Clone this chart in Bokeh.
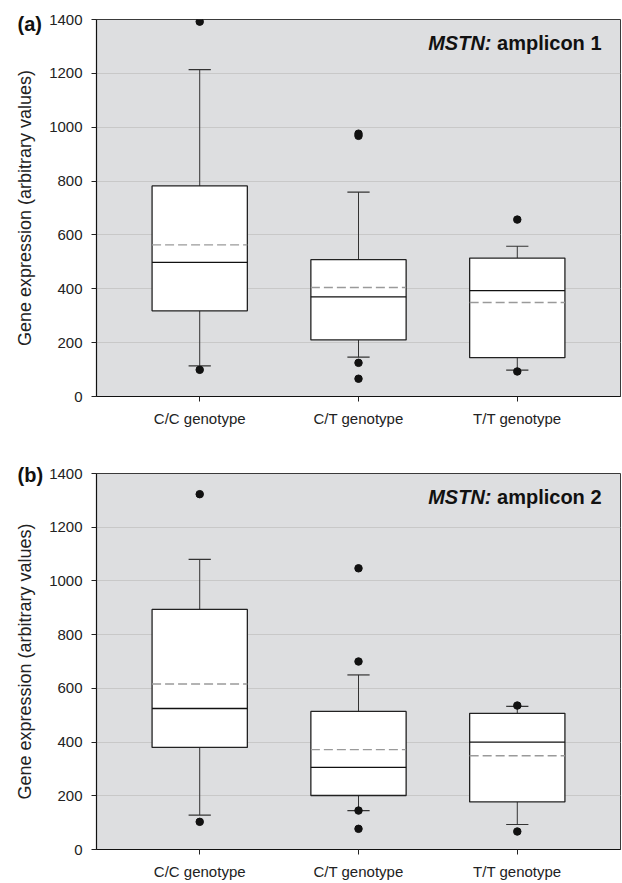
from bokeh.plotting import figure
from bokeh.models import Label, SingleIntervalTicker, FixedTicker, Range1d
from bokeh.layouts import column
from bokeh.embed import file_html
from bokeh.resources import INLINE

# ---------------- data ----------------
categories = ["C/C genotype", "C/T genotype", "T/T genotype"]
positions = [1, 2, 3]
y_ticks_interval = 200

# Panel (a) MSTN amplicon 1
a_q1 = [318, 210, 144]
a_q3 = [782, 508, 514]
a_median = [498, 370, 393]
a_mean = [563, 405, 349]
a_whisk_lo = [114, 146, 98]
a_whisk_hi = [1214, 759, 558]
a_out_pos = [1, 1, 2, 2, 2, 2, 3, 3]
a_out_val = [1392, 99, 976, 968, 125, 66, 657, 93]

# Panel (b) MSTN amplicon 2
b_q1 = [380, 201, 177]
b_q3 = [894, 514, 507]
b_median = [525, 306, 400]
b_mean = [616, 372, 349]
b_whisk_lo = [128, 145, 93]
b_whisk_hi = [1080, 650, 533]
b_out_pos = [1, 1, 2, 2, 2, 2, 3, 3]
b_out_val = [1323, 103, 1047, 700, 145, 77, 536, 67]

FONT = "Liberation Sans"
BOX_W = 0.6
CAP_W = 0.14


def make_panel(tag, amp, q1, q3, med, mean, wlo, whi, opos, oval,
               height, top_b, bottom_b, tag_standoff):
    p = figure(width=622, height=height, output_backend="svg",
               toolbar_location=None,
               x_range=Range1d(0.35, 3.65), y_range=Range1d(0, 1400),
               min_border_left=96, min_border_right=2,
               min_border_top=top_b, min_border_bottom=bottom_b)
    p.background_fill_color = "#dddee0"
    p.border_fill_color = "white"
    p.outline_line_color = "#3a3a3a"
    p.outline_line_width = 1

    # panel tag as a title placed beside the top of the y axis
    p.title.text = tag
    p.title.align = "left"
    p.title.vertical_align = "bottom"
    p.title.offset = -79
    p.title.standoff = tag_standoff
    p.title.text_font = FONT
    p.title.text_font_size = "20px"
    p.title.text_font_style = "bold"
    p.title.text_color = "#111"

    p.xgrid.grid_line_color = None
    p.ygrid.grid_line_color = "#c8c8c8"
    p.ygrid.grid_line_width = 1

    # y axis
    p.yaxis.ticker = SingleIntervalTicker(interval=y_ticks_interval, num_minor_ticks=0)
    p.yaxis.axis_label = "Gene expression (arbitrary values)"
    p.yaxis.axis_label_text_font = FONT
    p.yaxis.axis_label_text_font_size = "18px"
    p.yaxis.axis_label_text_font_style = "normal"
    p.yaxis.axis_label_text_color = "#222"
    p.yaxis.axis_label_standoff = 11
    # x axis
    p.xaxis.ticker = FixedTicker(ticks=positions)
    p.xaxis.major_label_overrides = {pos: c for pos, c in zip(positions, categories)}
    for ax in (p.xaxis, p.yaxis):
        ax.major_label_text_font = FONT
        ax.major_label_text_font_size = "15px"
        ax.major_label_text_color = "#222"
        ax.axis_line_color = "#111"
        ax.axis_line_width = 1.2
        ax.major_tick_line_color = "#222"
        ax.major_tick_out = 5
        ax.major_tick_in = 0
        ax.minor_tick_line_color = None
    p.yaxis.major_label_standoff = 9
    p.xaxis.major_label_standoff = 8

    lefts = [x - BOX_W / 2 for x in positions]
    rights = [x + BOX_W / 2 for x in positions]
    cl = [x - CAP_W / 2 for x in positions]
    cr = [x + CAP_W / 2 for x in positions]

    # whiskers
    p.segment(x0=positions, y0=q3, x1=positions, y1=whi, line_color="#333", line_width=1)
    p.segment(x0=positions, y0=q1, x1=positions, y1=wlo, line_color="#333", line_width=1)
    p.segment(x0=cl, y0=whi, x1=cr, y1=whi, line_color="#333", line_width=1.2)
    p.segment(x0=cl, y0=wlo, x1=cr, y1=wlo, line_color="#333", line_width=1.2)
    # boxes
    p.quad(left=lefts, right=rights, bottom=q1, top=q3, fill_color="white",
           line_color="#222", line_width=1.3)
    # median
    p.segment(x0=lefts, y0=med, x1=rights, y1=med, line_color="#111", line_width=1.3)
    # mean
    p.segment(x0=lefts, y0=mean, x1=rights, y1=mean, line_color="#9a9a9a",
              line_width=1.4, line_dash="9 4")
    # outliers
    p.scatter(x=opos, y=oval, size=7.5, fill_color="#111", line_color="#111")

    # MSTN: amplicon N
    p.add_layout(Label(x=3.65, y=1400, x_offset=-19, y_offset=-23, text=amp,
                       text_font=FONT, text_font_size="20px", text_font_style="bold",
                       text_color="#111", text_baseline="alphabetic", text_align="right"))
    p.add_layout(Label(x=3.65, y=1400, x_offset=-129, y_offset=-23, text="MSTN:",
                       text_font=FONT, text_font_size="20px", text_font_style="bold italic",
                       text_color="#111", text_baseline="alphabetic", text_align="right"))
    return p


pa = make_panel("(a)", "amplicon 1", a_q1, a_q3, a_median, a_mean, a_whisk_lo,
                a_whisk_hi, a_out_pos, a_out_val, 440, 19, 44, -30)
pb = make_panel("(b)", "amplicon 2", b_q1, b_q3, b_median, b_mean, b_whisk_lo,
                b_whisk_hi, b_out_pos, b_out_val, 442, 33, 32, -24)

layout = column(pa, pb, spacing=0)
open("out.html", "w").write(file_html(layout, INLINE))
